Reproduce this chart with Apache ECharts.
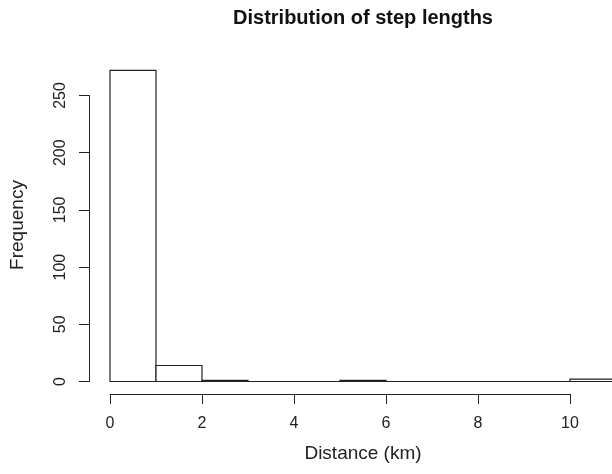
<!DOCTYPE html>
<html>
<head>
<meta charset="utf-8">
<script src="https://cdn.jsdelivr.net/npm/echarts@6/dist/echarts.min.js"></script>
<style>
  html, body { margin: 0; padding: 0; background: #fff; }
  #main { width: 612px; height: 474px; }
</style>
</head>
<body>
<div id="main"></div>
<script>
// histogram bins (km) and counts
var binStart = [0, 1, 2, 3, 4, 5, 6, 7, 8, 9, 10];
var binEnd   = [1, 2, 3, 4, 5, 6, 7, 8, 9, 10, 11];
var counts   = [272, 14, 1, 0, 0, 1, 0, 0, 0, 0, 2];
var xTicks = [0, 2, 4, 6, 8, 10];
var yTicks = [0, 50, 100, 150, 200, 250];

var font = '"Liberation Sans", Arial, sans-serif';
var ink = '#222';

var chart = echarts.init(document.getElementById('main'));
var bins = binStart.map(function (s, i) { return [s, binEnd[i], counts[i]]; });

chart.setOption({
  animation: false,
  grid: { left: 110, right: 42, top: 95.5, bottom: 92.5 },
  xAxis: {
    type: 'value',
    min: xTicks[0], max: xTicks[xTicks.length - 1], interval: 2,
    offset: 12.5,
    axisLine: { show: true, onZero: false, lineStyle: { color: ink, width: 1 } },
    axisTick: { show: true, length: 10, lineStyle: { color: ink } },
    axisLabel: { fontFamily: font, fontSize: 16, color: ink, margin: 22 },
    splitLine: { show: false }
  },
  yAxis: {
    type: 'value',
    min: yTicks[0], max: yTicks[yTicks.length - 1], interval: 50,
    offset: 21,
    axisLine: { show: true, onZero: false, lineStyle: { color: ink, width: 1 } },
    axisTick: { show: true, length: 10, lineStyle: { color: ink } },
    axisLabel: { fontFamily: font, fontSize: 16, color: ink, margin: 20, rotate: 90 },
    splitLine: { show: false }
  },
  graphic: [
    {
      type: 'text', position: [363, 18],
      style: { text: 'Distribution of step lengths', fontFamily: font, fontSize: 20, fontWeight: 'bold',
               fill: '#111', textAlign: 'center', textVerticalAlign: 'middle' }
    },
    {
      type: 'text', position: [363, 454],
      style: { text: 'Distance (km)', fontFamily: font, fontSize: 19, fill: ink,
               textAlign: 'center', textVerticalAlign: 'middle' }
    },
    {
      type: 'text', position: [18, 225], rotation: Math.PI / 2,
      style: { text: 'Frequency', fontFamily: font, fontSize: 19, fill: ink,
               textAlign: 'center', textVerticalAlign: 'middle' }
    }
  ],
  series: [{
    type: 'custom',
    clip: false,
    data: bins,
    encode: { x: [0, 1], y: 2 },
    renderItem: function (params, api) {
      var p0 = api.coord([api.value(0), 0]);
      var p1 = api.coord([api.value(1), api.value(2)]);
      return {
        type: 'rect',
        shape: { x: p0[0], y: p1[1], width: p1[0] - p0[0], height: p0[1] - p1[1] },
        style: { fill: '#fff', stroke: ink, lineWidth: 1.2 }
      };
    }
  }]
});
</script>
</body>
</html>
